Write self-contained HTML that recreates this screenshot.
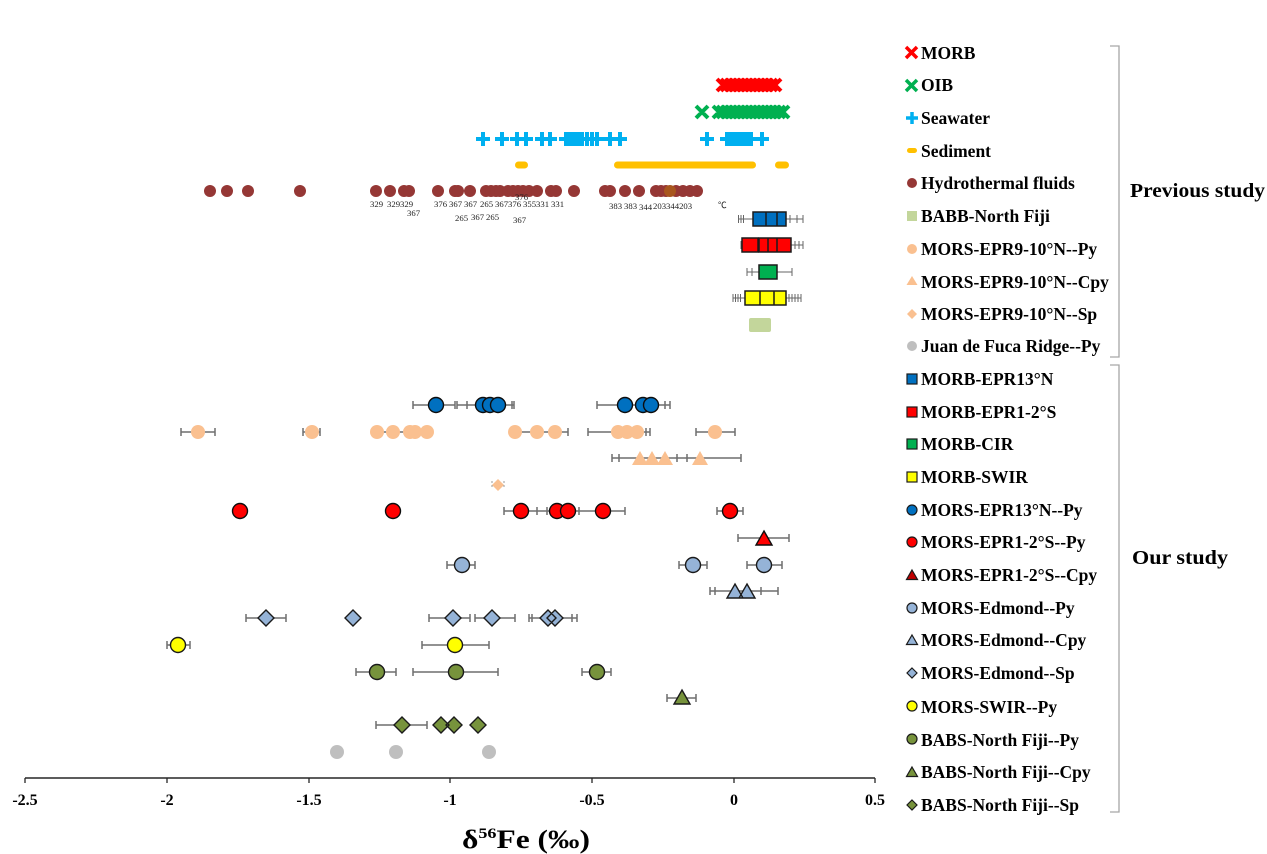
<!DOCTYPE html>
<html>
<head>
<meta charset="utf-8">
<style>
html,body{margin:0;padding:0;background:#fff;}
svg{display:block;}
.lg{font-family:"Liberation Serif",serif;font-weight:bold;font-size:17.5px;fill:#000;}
.tk{font-family:"Liberation Serif",serif;font-weight:bold;font-size:16px;fill:#000;}
.hl{font-family:"Liberation Serif","Noto Sans CJK SC",serif;font-size:8.7px;fill:#222;}
</style>
</head>
<body>
<svg width="1267" height="854" viewBox="0 0 1267 854" xmlns="http://www.w3.org/2000/svg">
<rect width="1267" height="854" fill="#fff"/>

<!-- MORB X band -->
<path stroke="#ff0000" stroke-width="4" fill="none" d="
M717,79 l12,12 M717,91 l12,-12
M721,79 l12,12 M721,91 l12,-12
M725,79 l12,12 M725,91 l12,-12
M729,79 l12,12 M729,91 l12,-12
M733,79 l12,12 M733,91 l12,-12
M737,79 l12,12 M737,91 l12,-12
M741,79 l12,12 M741,91 l12,-12
M745,79 l12,12 M745,91 l12,-12
M749,79 l12,12 M749,91 l12,-12
M753,79 l12,12 M753,91 l12,-12
M757,79 l12,12 M757,91 l12,-12
M761,79 l12,12 M761,91 l12,-12
M765,79 l12,12 M765,91 l12,-12
M769,79 l12,12 M769,91 l12,-12"/>

<!-- OIB X band -->
<path stroke="#00b050" stroke-width="4" fill="none" d="
M696,106 l12,12 M696,118 l12,-12
M713,106 l12,12 M713,118 l12,-12
M717,106 l12,12 M717,118 l12,-12
M721,106 l12,12 M721,118 l12,-12
M725,106 l12,12 M725,118 l12,-12
M729,106 l12,12 M729,118 l12,-12
M733,106 l12,12 M733,118 l12,-12
M737,106 l12,12 M737,118 l12,-12
M741,106 l12,12 M741,118 l12,-12
M745,106 l12,12 M745,118 l12,-12
M749,106 l12,12 M749,118 l12,-12
M753,106 l12,12 M753,118 l12,-12
M757,106 l12,12 M757,118 l12,-12
M761,106 l12,12 M761,118 l12,-12
M765,106 l12,12 M765,118 l12,-12
M769,106 l12,12 M769,118 l12,-12
M773,106 l12,12 M773,118 l12,-12
M777,106 l12,12 M777,118 l12,-12"/>

<!-- Seawater + -->
<path stroke="#00b0f0" stroke-width="4" fill="none" d="
M476,139 h14 M483,132 v14
M495,139 h14 M502,132 v14
M510,139 h14 M517,132 v14
M519,139 h14 M526,132 v14
M535,139 h14 M542,132 v14
M543,139 h14 M550,132 v14
M559,139 h14 M566,132 v14
M563,139 h14 M570,132 v14
M567,139 h14 M574,132 v14
M571,139 h14 M578,132 v14
M575,139 h14 M582,132 v14
M580,139 h14 M587,132 v14
M585,139 h14 M592,132 v14
M590,139 h14 M597,132 v14
M603,139 h14 M610,132 v14
M613,139 h14 M620,132 v14
M700,139 h14 M707,132 v14
M720,139 h14 M727,132 v14
M724,139 h14 M731,132 v14
M728,139 h14 M735,132 v14
M732,139 h14 M739,132 v14
M736,139 h14 M743,132 v14
M740,139 h14 M747,132 v14
M744,139 h14 M751,132 v14
M755,139 h14 M762,132 v14"/>

<!-- Sediment -->
<g fill="#ffc000">
<rect x="515" y="161.5" width="13" height="7" rx="3.5"/>
<rect x="614" y="161.5" width="142" height="7" rx="3.5"/>
<rect x="775" y="161.5" width="14" height="7" rx="3.5"/>
</g>

<!-- Hydrothermal fluids -->
<g fill="#953735">
<circle cx="210" cy="191" r="6"/><circle cx="227" cy="191" r="6"/><circle cx="248" cy="191" r="6"/><circle cx="300" cy="191" r="6"/>
<circle cx="376" cy="191" r="6"/><circle cx="390" cy="191" r="6"/><circle cx="404" cy="191" r="6"/><circle cx="409" cy="191" r="6"/>
<circle cx="438" cy="191" r="6"/><circle cx="455" cy="191" r="6"/><circle cx="458" cy="191" r="6"/><circle cx="470" cy="191" r="6"/>
<circle cx="486" cy="191" r="6"/><circle cx="491" cy="191" r="6"/><circle cx="496" cy="191" r="6"/><circle cx="500" cy="191" r="6"/>
<circle cx="508" cy="191" r="6"/><circle cx="513" cy="191" r="6"/><circle cx="518" cy="191" r="6"/><circle cx="523" cy="191" r="6"/>
<circle cx="529" cy="191" r="6"/><circle cx="537" cy="191" r="6"/><circle cx="551" cy="191" r="6"/><circle cx="556" cy="191" r="6"/>
<circle cx="574" cy="191" r="6"/><circle cx="605" cy="191" r="6"/><circle cx="610" cy="191" r="6"/><circle cx="625" cy="191" r="6"/>
<circle cx="639" cy="191" r="6"/><circle cx="656" cy="191" r="6"/><circle cx="661" cy="191" r="6"/><circle cx="666" cy="191" r="6"/>
<circle cx="676" cy="191" r="6"/><circle cx="683" cy="191" r="6"/><circle cx="690" cy="191" r="6"/><circle cx="697" cy="191" r="6"/>
</g>
<circle cx="670" cy="191" r="6" fill="#a8561e"/>

<!-- Hydrothermal temperature labels -->
<g class="hl">
<text x="370" y="207">329</text><text x="387" y="207">329</text><text x="400" y="207">329</text>
<text x="407" y="216">367</text>
<text x="434" y="207">376</text><text x="449" y="207">367</text><text x="464" y="207">367</text><text x="480" y="207">265</text>
<text x="495" y="207">367376</text><text x="523" y="207">355331</text><text x="551" y="207">331</text>
<text x="455" y="221">265</text><text x="471" y="220">367</text><text x="486" y="220">265</text><text x="513" y="223">367</text>
<text x="515" y="200">376</text>
<text x="609" y="209">383</text><text x="624" y="209">383</text><text x="639" y="210">344</text>
<text x="653" y="209">203344203</text>
<text x="718" y="208">℃</text>
</g>

<!-- Boxes previous study -->
<g stroke="#666" stroke-width="1" fill="none">
<path d="M738,219 H753 M738.5,215 v8 M741,215 v8 M743.5,215 v8 M786,219 H803 M790,215 v8 M797,215 v8 M803,215 v8"/>
<path d="M741,241 v8 M791,245 H803 M795,241 v8 M799,241 v8 M803,241 v8"/>
<path d="M747,272 H759 M747,268 v8 M752,268 v8 M777,272 H792 M792,268 v8"/>
<path d="M733,298 H745 M733,294 v8 M735.5,294 v8 M738,294 v8 M740.5,294 v8 M786,298 H801 M789,294 v8 M792,294 v8 M795,294 v8 M798,294 v8 M801,294 v8"/>
</g>
<g stroke="#1a1a1a" stroke-width="1.5">
<rect x="753" y="212" width="33" height="14" fill="#0070c0"/>
<path d="M766,212 v14 M777,212 v14" fill="none"/>
<rect x="742" y="238" width="16" height="14" fill="#ff0000"/>
<rect x="759" y="238" width="32" height="14" fill="#ff0000"/>
<path d="M768,238 v14 M777,238 v14" fill="none"/>
<rect x="759" y="265" width="18" height="14" fill="#00b050"/>
<rect x="745" y="291" width="41" height="14" fill="#ffff00"/>
<path d="M760,291 v14 M774,291 v14" fill="none"/>
</g>
<rect x="749" y="318" width="22" height="14" rx="2" fill="#c3d69b"/>

<!-- Error bars -->
<g stroke="#6f6f6f" stroke-width="1.5" fill="none">
<path d="M413,405 H455 M413,401 v8 M455,401 v8 M457,405 H512 M457,401 v8 M467,405 H514 M467,401 v8 M512,401 v8 M514,401 v8 M597,405 H670 M597,401 v8 M665,401 v8 M670,401 v8"/>
<path d="M181,432 H215 M181,428 v8 M215,428 v8 M303,432 H320 M303,428 v8 M320,428 v8 M377,432 H427 M515,432 H568 M568,428 v8 M588,432 H650 M588,428 v8 M646,428 v8 M650,428 v8 M696,432 H735 M696,428 v8 M735,428 v8"/>
<path d="M612,458 H741 M612,454 v8 M619,454 v8 M677,454 v8 M687,454 v8 M741,454 v8"/>
<path d="M504,511 H625 M504,507 v8 M537,507 v8 M547,507 v8 M579,507 v8 M625,507 v8 M717,511 H743 M717,507 v8 M743,507 v8"/>
<path d="M738,538 H789 M738,534 v8 M789,534 v8"/>
<path d="M447,565 H475 M447,561 v8 M475,561 v8 M679,565 H707 M679,561 v8 M707,561 v8 M747,565 H782 M747,561 v8 M782,561 v8"/>
<path d="M710,591 H778 M710,587 v8 M715,587 v8 M761,587 v8 M778,587 v8"/>
<path d="M246,618 H286 M246,614 v8 M286,614 v8 M429,618 H470 M429,614 v8 M470,614 v8 M475,618 H515 M475,614 v8 M515,614 v8 M529,618 H577 M529,614 v8 M532,614 v8 M572,614 v8 M577,614 v8"/>
<path d="M167,645 H190 M167,641 v8 M190,641 v8 M422,645 H489 M422,641 v8 M489,641 v8"/>
<path d="M356,672 H396 M356,668 v8 M396,668 v8 M413,672 H498 M413,668 v8 M498,668 v8 M582,672 H611 M582,668 v8 M611,668 v8"/>
<path d="M667,698 H696 M667,694 v8 M696,694 v8"/>
<path d="M376,725 H427 M376,721 v8 M427,721 v8"/>
</g>

<!-- EPR13N Py blue circles -->
<g fill="#0070c0" stroke="#0d0d0d" stroke-width="1.4">
<circle cx="436" cy="405" r="7.5"/><circle cx="483" cy="405" r="7.5"/><circle cx="490" cy="405" r="7.5"/><circle cx="498" cy="405" r="7.5"/>
<circle cx="625" cy="405" r="7.5"/><circle cx="643" cy="405" r="7.5"/><circle cx="651" cy="405" r="7.5"/>
</g>

<!-- EPR9 peach -->
<g fill="#fac090">
<circle cx="198" cy="432" r="7"/><circle cx="312" cy="432" r="7"/><circle cx="377" cy="432" r="7"/><circle cx="393" cy="432" r="7"/>
<circle cx="410" cy="432" r="7"/><circle cx="415" cy="432" r="7"/><circle cx="427" cy="432" r="7"/><circle cx="515" cy="432" r="7"/>
<circle cx="537" cy="432" r="7"/><circle cx="555" cy="432" r="7"/><circle cx="618" cy="432" r="7"/><circle cx="627" cy="432" r="7"/>
<circle cx="637" cy="432" r="7"/><circle cx="715" cy="432" r="7"/>
<path d="M640,451 l8,14 h-16 z M652,451 l8,14 h-16 z M665,451 l8,14 h-16 z M700,451 l8,14 h-16 z"/>
<path d="M498,479 l6,6 l-6,6 l-6,-6 z"/>
</g>
<path d="M492,481 v8 M504,481 v8" stroke="#999" stroke-width="1" stroke-dasharray="2,2"/>

<!-- EPR1-2S red -->
<g fill="#ff0000" stroke="#0d0d0d" stroke-width="1.4">
<circle cx="240" cy="511" r="7.5"/><circle cx="393" cy="511" r="7.5"/><circle cx="521" cy="511" r="7.5"/><circle cx="557" cy="511" r="7.5"/>
<circle cx="568" cy="511" r="7.5"/><circle cx="603" cy="511" r="7.5"/><circle cx="730" cy="511" r="7.5"/>
<path d="M764,531 l8,14 h-16 z"/>
</g>

<!-- Edmond -->
<g fill="#95b3d7" stroke="#1a1a1a" stroke-width="1.4">
<circle cx="462" cy="565" r="7.5"/><circle cx="693" cy="565" r="7.5"/><circle cx="764" cy="565" r="7.5"/>
<path d="M735,584 l8,14 h-16 z M747,584 l8,14 h-16 z"/>
<path d="M266,610 l8,8 l-8,8 l-8,-8 z M353,610 l8,8 l-8,8 l-8,-8 z M453,610 l8,8 l-8,8 l-8,-8 z M492,610 l8,8 l-8,8 l-8,-8 z M548,610 l8,8 l-8,8 l-8,-8 z M555,610 l8,8 l-8,8 l-8,-8 z"/>
</g>

<!-- SWIR yellow -->
<g fill="#ffff00" stroke="#1a1a1a" stroke-width="1.4">
<circle cx="178" cy="645" r="7.5"/><circle cx="455" cy="645" r="7.5"/>
</g>

<!-- North Fiji -->
<g fill="#77933c" stroke="#1a1a1a" stroke-width="1.4">
<circle cx="377" cy="672" r="7.5"/><circle cx="456" cy="672" r="7.5"/><circle cx="597" cy="672" r="7.5"/>
<path d="M682,690 l8,14 h-16 z"/>
<path d="M402,717 l8,8 l-8,8 l-8,-8 z M441,717 l8,8 l-8,8 l-8,-8 z M454,717 l8,8 l-8,8 l-8,-8 z M478,717 l8,8 l-8,8 l-8,-8 z"/>
</g>

<!-- Juan de Fuca grey -->
<g fill="#bfbfbf">
<circle cx="337" cy="752" r="7"/><circle cx="396" cy="752" r="7"/><circle cx="489" cy="752" r="7"/>
</g>

<!-- X axis -->
<path d="M25,778 H875" stroke="#262626" stroke-width="1.5"/>
<path d="M25,778 v5 M167,778 v5 M309,778 v5 M450,778 v5 M592,778 v5 M734,778 v5 M875,778 v5" stroke="#262626" stroke-width="1.3"/>
<g class="tk" text-anchor="middle">
<text x="25" y="805">-2.5</text><text x="167" y="805">-2</text><text x="309" y="805">-1.5</text><text x="450" y="805">-1</text>
<text x="592" y="805">-0.5</text><text x="734" y="805">0</text><text x="875" y="805">0.5</text>
</g>
<text x="462" y="848" font-family="Liberation Serif, serif" font-weight="bold" font-size="26" textLength="128" lengthAdjust="spacingAndGlyphs">δ<tspan font-size="15" dy="-10">56</tspan><tspan dy="10">Fe (‰)</tspan></text>

<!-- Legend markers: previous -->
<path d="M906,47 l11,11 M906,58 l11,-11" stroke="#ff0000" stroke-width="3.5"/>
<path d="M906,80 l11,11 M906,91 l11,-11" stroke="#00b050" stroke-width="3.5"/>
<path d="M906,118 h12 M912,112 v12" stroke="#00b0f0" stroke-width="3.5"/>
<rect x="907" y="148" width="10" height="5" rx="2.5" fill="#ffc000"/>
<circle cx="912" cy="183" r="5" fill="#953735"/>
<rect x="907" y="211" width="10" height="10" fill="#c3d69b"/>
<circle cx="912" cy="249" r="5" fill="#fac090"/>
<path d="M912,276 l5.5,9 h-11 z" fill="#fac090"/>
<path d="M912,309 l5,5 l-5,5 l-5,-5 z" fill="#fac090"/>
<circle cx="912" cy="346" r="5" fill="#bfbfbf"/>

<!-- Legend markers: ours -->
<g stroke="#1a1a1a" stroke-width="1.2">
<rect x="907" y="374" width="10" height="10" fill="#0070c0"/>
<rect x="907" y="407" width="10" height="10" fill="#ff0000"/>
<rect x="907" y="439" width="10" height="10" fill="#00b050"/>
<rect x="907" y="472" width="10" height="10" fill="#ffff00"/>
<circle cx="912" cy="510" r="5" fill="#0070c0"/>
<circle cx="912" cy="542" r="5" fill="#ff0000"/>
<path d="M912,570 l5.5,9.5 h-11 z" fill="#c00000"/>
<circle cx="912" cy="608" r="5" fill="#95b3d7"/>
<path d="M912,635 l5.5,9.5 h-11 z" fill="#95b3d7"/>
<path d="M912,668 l5,5 l-5,5 l-5,-5 z" fill="#95b3d7"/>
<circle cx="912" cy="706" r="5" fill="#ffff00"/>
<circle cx="912" cy="739" r="5" fill="#77933c"/>
<path d="M912,767 l5.5,9.5 h-11 z" fill="#77933c"/>
<path d="M912,800 l5,5 l-5,5 l-5,-5 z" fill="#77933c"/>
</g>

<!-- Legend text -->
<g class="lg">
<text x="921" y="59">MORB</text>
<text x="921" y="91">OIB</text>
<text x="921" y="124">Seawater</text>
<text x="921" y="157">Sediment</text>
<text x="921" y="189">Hydrothermal fluids</text>
<text x="921" y="222">BABB-North Fiji</text>
<text x="921" y="255">MORS-EPR9-10°N--Py</text>
<text x="921" y="288">MORS-EPR9-10°N--Cpy</text>
<text x="921" y="320">MORS-EPR9-10°N--Sp</text>
<text x="921" y="352">Juan de Fuca Ridge--Py</text>
<text x="921" y="385">MORB-EPR13°N</text>
<text x="921" y="418">MORB-EPR1-2°S</text>
<text x="921" y="450">MORB-CIR</text>
<text x="921" y="483">MORB-SWIR</text>
<text x="921" y="516">MORS-EPR13°N--Py</text>
<text x="921" y="548">MORS-EPR1-2°S--Py</text>
<text x="921" y="581">MORS-EPR1-2°S--Cpy</text>
<text x="921" y="614">MORS-Edmond--Py</text>
<text x="921" y="646">MORS-Edmond--Cpy</text>
<text x="921" y="679">MORS-Edmond--Sp</text>
<text x="921" y="713">MORS-SWIR--Py</text>
<text x="921" y="746">BABS-North Fiji--Py</text>
<text x="921" y="778">BABS-North Fiji--Cpy</text>
<text x="921" y="811">BABS-North Fiji--Sp</text>
</g>

<!-- Brackets -->
<path d="M1110,46 H1119 V357 H1110 M1110,365 H1119 V812 H1110" stroke="#a6a6a6" stroke-width="1.3" fill="none"/>
<text x="1130" y="197" font-family="Liberation Serif, serif" font-weight="bold" font-size="20" textLength="135" lengthAdjust="spacingAndGlyphs">Previous study</text>
<text x="1132" y="564" font-family="Liberation Serif, serif" font-weight="bold" font-size="20" textLength="96" lengthAdjust="spacingAndGlyphs">Our study</text>
</svg>
</body>
</html>
